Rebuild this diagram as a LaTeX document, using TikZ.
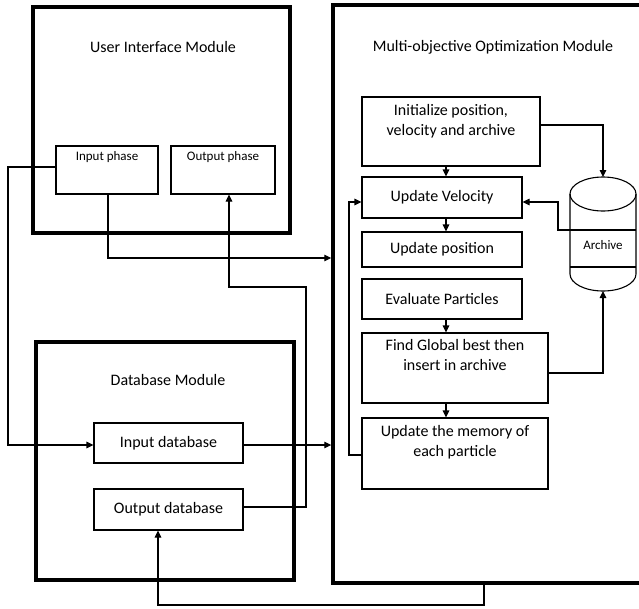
\documentclass[tikz,border=0pt]{standalone}
\usepackage{fontspec}
\setmainfont{Carlito}
\usetikzlibrary{arrows.meta}
\begin{document}
\begin{tikzpicture}[x=1pt,y=-1pt,
  module/.style={draw, line width=3.4pt, inner sep=0pt},
  box/.style={draw, line width=1.1pt, inner sep=0pt, font=\fontsize{16}{20.5}\selectfont, align=center},
  sbox/.style={draw, line width=1.1pt, inner sep=0pt},
  title/.style={font=\fontsize{16}{20}\selectfont, inner sep=0pt},
  toplbl/.style={anchor=north, font=\fontsize{16}{20.5}\selectfont, align=center, inner sep=0pt},
  smalllbl/.style={anchor=north, font=\fontsize{13}{16}\selectfont, inner sep=0pt},
  conn/.style={line width=1.1pt},
  arr/.style={line width=1.1pt, -{Triangle[length=7pt,width=6.5pt]}},
]
\useasboundingbox (0,0) rectangle (639,608);
\clip (0,0) rectangle (639,608);
\fill[white] (0,0) rectangle (639,608);

% modules
\node[module, minimum width=257, minimum height=226] (uim) at (161.5,120) {};
\node[title] (uimt) at (163,47) {User Interface Module};
\node[module, minimum width=258, minimum height=238] (dbm) at (165,461) {};
\node[title] (dbmt) at (168,380) {Database Module};
\node[module, minimum width=330, minimum height=578] (moo) at (498,294) {};
\node[title] (moot) at (493,47) {Multi-objective Optimization Module};

% UI boxes
\node[sbox, minimum width=102, minimum height=48] (inph) at (107,170) {};
\node[smalllbl] (inpht) at (107,151) {Input phase};
\node[sbox, minimum width=104, minimum height=48] (outph) at (223,170) {};
\node[smalllbl] (outpht) at (223,151) {Output phase};

% DB boxes
\node[box, minimum width=149, minimum height=40] (indb) at (168.5,443) {Input database};
\node[box, minimum width=149, minimum height=41] (outdb) at (168.5,509.5) {Output database};

% MOO boxes
\node[sbox, minimum width=178, minimum height=69] (init) at (451,131.5) {};
\node[toplbl] (initt) at (451,104) {Initialize position,\\velocity and archive};
\node[box, minimum width=160, minimum height=41] (vel) at (442,197.5) {Update Velocity};
\node[box, minimum width=160, minimum height=35] (pos) at (442,249.5) {Update position};
\node[box, minimum width=160, minimum height=40] (eval) at (442,299) {Evaluate Particles};
\node[sbox, minimum width=186, minimum height=70] (find) at (455,368) {};
\node[toplbl] (findt) at (455,339) {Find Global best then\\insert in archive};
\node[sbox, minimum width=186, minimum height=71] (mem) at (455,453.5) {};
\node[toplbl] (memt) at (455,425) {Update the memory of\\each particle};

% archive cylinder
\coordinate (archtop) at (603,177);
\coordinate (archbot) at (603,291);
\coordinate (archw) at (570,230);
\draw[conn] (570,194) -- (570,274) arc[start angle=180, end angle=0, x radius=33, y radius=17] -- (636,194);
\draw[conn] (603,194) ellipse[x radius=33, y radius=17];
\draw[conn] (570,230) -- (636,230);
\draw[conn] (570,267) -- (636,267);
\node[font=\fontsize{13}{16}\selectfont, inner sep=0pt] (archt) at (603,245) {Archive};

% MOO flow
\coordinate (xc) at (446,0);
\draw[arr] (init.south -| xc) -- (vel.north -| xc);
\draw[arr] (vel.south -| xc) -- (pos.north -| xc);
\draw[arr] (eval.south -| xc) -- (find.north -| xc);
\draw[arr] (find.south -| xc) -- (mem.north -| xc);
\draw[arr] (init.east |- 0,125) -- (603,125) -- (archtop);
\draw[arr] (find.east |- 0,373) -- (603,373) -- (archbot);
\draw[arr] (archw) -- (558,230) -- (558,202) -- (vel.east |- 0,202);
\draw[arr] (mem.west |- 0,455) -- (349,455) -- (349,202) -- (vel.west |- 0,202);

% inter-module connectors
\draw[arr] (inph.south -| 108,0) -- (108,258) -- (moo.west |- 0,258);
\draw[arr] (inph.west |- 0,167) -- (8,167) -- (8,445) -- (indb.west |- 0,445);
\draw[arr] (indb.east |- 0,445) -- (moo.west |- 0,445);
\draw[arr] (outdb.east |- 0,507) -- (306,507) -- (306,287) -- (229,287) -- (outph.south -| 229,0);
\draw[arr] (moo.south -| 484,0) -- (484,605) -- (158,605) -- (outdb.south -| 158,0);
\end{tikzpicture}
\end{document}
